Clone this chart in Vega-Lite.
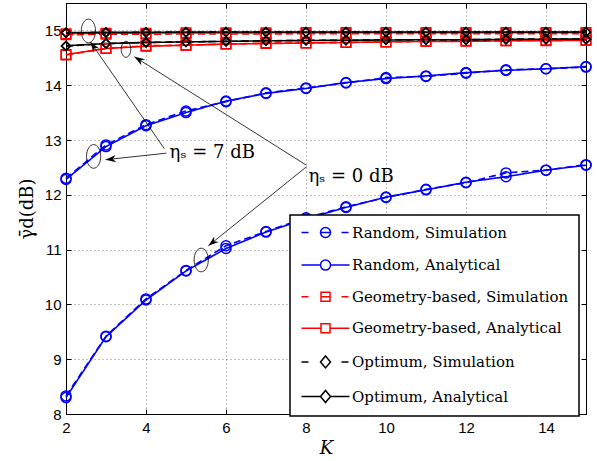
{
  "$schema": "https://vega.github.io/schema/vega-lite/v6.json",
  "width": 520,
  "height": 411,
  "autosize": "none",
  "padding": {"left": 66, "top": 3, "right": 11, "bottom": 47},
  "background": "white",
  "datasets": {
    "curves": [
      {"scheme":"Random","type":"Analytical","eta":7,"K":2,"v":12.28},{"scheme":"Random","type":"Analytical","eta":7,"K":3,"v":12.88},{"scheme":"Random","type":"Analytical","eta":7,"K":4,"v":13.26},{"scheme":"Random","type":"Analytical","eta":7,"K":5,"v":13.50},{"scheme":"Random","type":"Analytical","eta":7,"K":6,"v":13.71},{"scheme":"Random","type":"Analytical","eta":7,"K":7,"v":13.85},{"scheme":"Random","type":"Analytical","eta":7,"K":8,"v":13.94},{"scheme":"Random","type":"Analytical","eta":7,"K":9,"v":14.05},{"scheme":"Random","type":"Analytical","eta":7,"K":10,"v":14.12},{"scheme":"Random","type":"Analytical","eta":7,"K":11,"v":14.17},{"scheme":"Random","type":"Analytical","eta":7,"K":12,"v":14.23},{"scheme":"Random","type":"Analytical","eta":7,"K":13,"v":14.27},{"scheme":"Random","type":"Analytical","eta":7,"K":14,"v":14.30},{"scheme":"Random","type":"Analytical","eta":7,"K":15,"v":14.34},
      {"scheme":"Random","type":"Simulation","eta":7,"K":2,"v":12.30},{"scheme":"Random","type":"Simulation","eta":7,"K":3,"v":12.91},{"scheme":"Random","type":"Simulation","eta":7,"K":4,"v":13.28},{"scheme":"Random","type":"Simulation","eta":7,"K":5,"v":13.53},{"scheme":"Random","type":"Simulation","eta":7,"K":6,"v":13.70},{"scheme":"Random","type":"Simulation","eta":7,"K":7,"v":13.86},{"scheme":"Random","type":"Simulation","eta":7,"K":8,"v":13.95},{"scheme":"Random","type":"Simulation","eta":7,"K":9,"v":14.04},{"scheme":"Random","type":"Simulation","eta":7,"K":10,"v":14.14},{"scheme":"Random","type":"Simulation","eta":7,"K":11,"v":14.16},{"scheme":"Random","type":"Simulation","eta":7,"K":12,"v":14.22},{"scheme":"Random","type":"Simulation","eta":7,"K":13,"v":14.28},{"scheme":"Random","type":"Simulation","eta":7,"K":14,"v":14.30},{"scheme":"Random","type":"Simulation","eta":7,"K":15,"v":14.33},
      {"scheme":"Random","type":"Analytical","eta":0,"K":2,"v":8.30},{"scheme":"Random","type":"Analytical","eta":0,"K":3,"v":9.41},{"scheme":"Random","type":"Analytical","eta":0,"K":4,"v":10.08},{"scheme":"Random","type":"Analytical","eta":0,"K":5,"v":10.61},{"scheme":"Random","type":"Analytical","eta":0,"K":6,"v":11.02},{"scheme":"Random","type":"Analytical","eta":0,"K":7,"v":11.32},{"scheme":"Random","type":"Analytical","eta":0,"K":8,"v":11.56},{"scheme":"Random","type":"Analytical","eta":0,"K":9,"v":11.77},{"scheme":"Random","type":"Analytical","eta":0,"K":10,"v":11.96},{"scheme":"Random","type":"Analytical","eta":0,"K":11,"v":12.09},{"scheme":"Random","type":"Analytical","eta":0,"K":12,"v":12.23},{"scheme":"Random","type":"Analytical","eta":0,"K":13,"v":12.33},{"scheme":"Random","type":"Analytical","eta":0,"K":14,"v":12.45},{"scheme":"Random","type":"Analytical","eta":0,"K":15,"v":12.54},
      {"scheme":"Random","type":"Simulation","eta":0,"K":2,"v":8.33},{"scheme":"Random","type":"Simulation","eta":0,"K":3,"v":9.42},{"scheme":"Random","type":"Simulation","eta":0,"K":4,"v":10.10},{"scheme":"Random","type":"Simulation","eta":0,"K":5,"v":10.62},{"scheme":"Random","type":"Simulation","eta":0,"K":6,"v":11.07},{"scheme":"Random","type":"Simulation","eta":0,"K":7,"v":11.33},{"scheme":"Random","type":"Simulation","eta":0,"K":8,"v":11.58},{"scheme":"Random","type":"Simulation","eta":0,"K":9,"v":11.78},{"scheme":"Random","type":"Simulation","eta":0,"K":10,"v":11.95},{"scheme":"Random","type":"Simulation","eta":0,"K":11,"v":12.10},{"scheme":"Random","type":"Simulation","eta":0,"K":12,"v":12.22},{"scheme":"Random","type":"Simulation","eta":0,"K":13,"v":12.40},{"scheme":"Random","type":"Simulation","eta":0,"K":14,"v":12.45},{"scheme":"Random","type":"Simulation","eta":0,"K":15,"v":12.55},
      {"scheme":"Geometry-based","type":"Analytical","eta":7,"K":2,"v":14.94},{"scheme":"Geometry-based","type":"Analytical","eta":7,"K":3,"v":14.95},{"scheme":"Geometry-based","type":"Analytical","eta":7,"K":4,"v":14.95},{"scheme":"Geometry-based","type":"Analytical","eta":7,"K":5,"v":14.955},{"scheme":"Geometry-based","type":"Analytical","eta":7,"K":6,"v":14.955},{"scheme":"Geometry-based","type":"Analytical","eta":7,"K":7,"v":14.955},{"scheme":"Geometry-based","type":"Analytical","eta":7,"K":8,"v":14.96},{"scheme":"Geometry-based","type":"Analytical","eta":7,"K":9,"v":14.96},{"scheme":"Geometry-based","type":"Analytical","eta":7,"K":10,"v":14.96},{"scheme":"Geometry-based","type":"Analytical","eta":7,"K":11,"v":14.96},{"scheme":"Geometry-based","type":"Analytical","eta":7,"K":12,"v":14.96},{"scheme":"Geometry-based","type":"Analytical","eta":7,"K":13,"v":14.96},{"scheme":"Geometry-based","type":"Analytical","eta":7,"K":14,"v":14.96},{"scheme":"Geometry-based","type":"Analytical","eta":7,"K":15,"v":14.96},
      {"scheme":"Geometry-based","type":"Simulation","eta":7,"K":2,"v":14.92},{"scheme":"Geometry-based","type":"Simulation","eta":7,"K":3,"v":14.93},{"scheme":"Geometry-based","type":"Simulation","eta":7,"K":4,"v":14.93},{"scheme":"Geometry-based","type":"Simulation","eta":7,"K":5,"v":14.935},{"scheme":"Geometry-based","type":"Simulation","eta":7,"K":6,"v":14.935},{"scheme":"Geometry-based","type":"Simulation","eta":7,"K":7,"v":14.935},{"scheme":"Geometry-based","type":"Simulation","eta":7,"K":8,"v":14.94},{"scheme":"Geometry-based","type":"Simulation","eta":7,"K":9,"v":14.94},{"scheme":"Geometry-based","type":"Simulation","eta":7,"K":10,"v":14.94},{"scheme":"Geometry-based","type":"Simulation","eta":7,"K":11,"v":14.94},{"scheme":"Geometry-based","type":"Simulation","eta":7,"K":12,"v":14.94},{"scheme":"Geometry-based","type":"Simulation","eta":7,"K":13,"v":14.94},{"scheme":"Geometry-based","type":"Simulation","eta":7,"K":14,"v":14.94},{"scheme":"Geometry-based","type":"Simulation","eta":7,"K":15,"v":14.94},
      {"scheme":"Geometry-based","type":"Analytical","eta":0,"K":2,"v":14.56},{"scheme":"Geometry-based","type":"Analytical","eta":0,"K":3,"v":14.67},{"scheme":"Geometry-based","type":"Analytical","eta":0,"K":4,"v":14.71},{"scheme":"Geometry-based","type":"Analytical","eta":0,"K":5,"v":14.73},{"scheme":"Geometry-based","type":"Analytical","eta":0,"K":6,"v":14.75},{"scheme":"Geometry-based","type":"Analytical","eta":0,"K":7,"v":14.76},{"scheme":"Geometry-based","type":"Analytical","eta":0,"K":8,"v":14.77},{"scheme":"Geometry-based","type":"Analytical","eta":0,"K":9,"v":14.78},{"scheme":"Geometry-based","type":"Analytical","eta":0,"K":10,"v":14.79},{"scheme":"Geometry-based","type":"Analytical","eta":0,"K":11,"v":14.80},{"scheme":"Geometry-based","type":"Analytical","eta":0,"K":12,"v":14.80},{"scheme":"Geometry-based","type":"Analytical","eta":0,"K":13,"v":14.81},{"scheme":"Geometry-based","type":"Analytical","eta":0,"K":14,"v":14.81},{"scheme":"Geometry-based","type":"Analytical","eta":0,"K":15,"v":14.82},
      {"scheme":"Geometry-based","type":"Simulation","eta":0,"K":2,"v":14.55},{"scheme":"Geometry-based","type":"Simulation","eta":0,"K":3,"v":14.67},{"scheme":"Geometry-based","type":"Simulation","eta":0,"K":4,"v":14.72},{"scheme":"Geometry-based","type":"Simulation","eta":0,"K":5,"v":14.73},{"scheme":"Geometry-based","type":"Simulation","eta":0,"K":6,"v":14.75},{"scheme":"Geometry-based","type":"Simulation","eta":0,"K":7,"v":14.77},{"scheme":"Geometry-based","type":"Simulation","eta":0,"K":8,"v":14.77},{"scheme":"Geometry-based","type":"Simulation","eta":0,"K":9,"v":14.78},{"scheme":"Geometry-based","type":"Simulation","eta":0,"K":10,"v":14.79},{"scheme":"Geometry-based","type":"Simulation","eta":0,"K":11,"v":14.80},{"scheme":"Geometry-based","type":"Simulation","eta":0,"K":12,"v":14.81},{"scheme":"Geometry-based","type":"Simulation","eta":0,"K":13,"v":14.81},{"scheme":"Geometry-based","type":"Simulation","eta":0,"K":14,"v":14.82},{"scheme":"Geometry-based","type":"Simulation","eta":0,"K":15,"v":14.82},
      {"scheme":"Optimum","type":"Analytical","eta":7,"K":2,"v":14.96},{"scheme":"Optimum","type":"Analytical","eta":7,"K":3,"v":14.965},{"scheme":"Optimum","type":"Analytical","eta":7,"K":4,"v":14.965},{"scheme":"Optimum","type":"Analytical","eta":7,"K":5,"v":14.97},{"scheme":"Optimum","type":"Analytical","eta":7,"K":6,"v":14.97},{"scheme":"Optimum","type":"Analytical","eta":7,"K":7,"v":14.97},{"scheme":"Optimum","type":"Analytical","eta":7,"K":8,"v":14.97},{"scheme":"Optimum","type":"Analytical","eta":7,"K":9,"v":14.97},{"scheme":"Optimum","type":"Analytical","eta":7,"K":10,"v":14.97},{"scheme":"Optimum","type":"Analytical","eta":7,"K":11,"v":14.97},{"scheme":"Optimum","type":"Analytical","eta":7,"K":12,"v":14.97},{"scheme":"Optimum","type":"Analytical","eta":7,"K":13,"v":14.97},{"scheme":"Optimum","type":"Analytical","eta":7,"K":14,"v":14.97},{"scheme":"Optimum","type":"Analytical","eta":7,"K":15,"v":14.97},
      {"scheme":"Optimum","type":"Simulation","eta":7,"K":2,"v":14.955},{"scheme":"Optimum","type":"Simulation","eta":7,"K":3,"v":14.96},{"scheme":"Optimum","type":"Simulation","eta":7,"K":4,"v":14.965},{"scheme":"Optimum","type":"Simulation","eta":7,"K":5,"v":14.965},{"scheme":"Optimum","type":"Simulation","eta":7,"K":6,"v":14.97},{"scheme":"Optimum","type":"Simulation","eta":7,"K":7,"v":14.97},{"scheme":"Optimum","type":"Simulation","eta":7,"K":8,"v":14.97},{"scheme":"Optimum","type":"Simulation","eta":7,"K":9,"v":14.97},{"scheme":"Optimum","type":"Simulation","eta":7,"K":10,"v":14.97},{"scheme":"Optimum","type":"Simulation","eta":7,"K":11,"v":14.97},{"scheme":"Optimum","type":"Simulation","eta":7,"K":12,"v":14.97},{"scheme":"Optimum","type":"Simulation","eta":7,"K":13,"v":14.97},{"scheme":"Optimum","type":"Simulation","eta":7,"K":14,"v":14.97},{"scheme":"Optimum","type":"Simulation","eta":7,"K":15,"v":14.97},
      {"scheme":"Optimum","type":"Analytical","eta":0,"K":2,"v":14.72},{"scheme":"Optimum","type":"Analytical","eta":0,"K":3,"v":14.76},{"scheme":"Optimum","type":"Analytical","eta":0,"K":4,"v":14.78},{"scheme":"Optimum","type":"Analytical","eta":0,"K":5,"v":14.79},{"scheme":"Optimum","type":"Analytical","eta":0,"K":6,"v":14.80},{"scheme":"Optimum","type":"Analytical","eta":0,"K":7,"v":14.81},{"scheme":"Optimum","type":"Analytical","eta":0,"K":8,"v":14.815},{"scheme":"Optimum","type":"Analytical","eta":0,"K":9,"v":14.82},{"scheme":"Optimum","type":"Analytical","eta":0,"K":10,"v":14.825},{"scheme":"Optimum","type":"Analytical","eta":0,"K":11,"v":14.83},{"scheme":"Optimum","type":"Analytical","eta":0,"K":12,"v":14.83},{"scheme":"Optimum","type":"Analytical","eta":0,"K":13,"v":14.835},{"scheme":"Optimum","type":"Analytical","eta":0,"K":14,"v":14.84},{"scheme":"Optimum","type":"Analytical","eta":0,"K":15,"v":14.84},
      {"scheme":"Optimum","type":"Simulation","eta":0,"K":2,"v":14.71},{"scheme":"Optimum","type":"Simulation","eta":0,"K":3,"v":14.76},{"scheme":"Optimum","type":"Simulation","eta":0,"K":4,"v":14.78},{"scheme":"Optimum","type":"Simulation","eta":0,"K":5,"v":14.79},{"scheme":"Optimum","type":"Simulation","eta":0,"K":6,"v":14.80},{"scheme":"Optimum","type":"Simulation","eta":0,"K":7,"v":14.81},{"scheme":"Optimum","type":"Simulation","eta":0,"K":8,"v":14.82},{"scheme":"Optimum","type":"Simulation","eta":0,"K":9,"v":14.82},{"scheme":"Optimum","type":"Simulation","eta":0,"K":10,"v":14.83},{"scheme":"Optimum","type":"Simulation","eta":0,"K":11,"v":14.83},{"scheme":"Optimum","type":"Simulation","eta":0,"K":12,"v":14.83},{"scheme":"Optimum","type":"Simulation","eta":0,"K":13,"v":14.84},{"scheme":"Optimum","type":"Simulation","eta":0,"K":14,"v":14.84},{"scheme":"Optimum","type":"Simulation","eta":0,"K":15,"v":14.84}
    ],
    "notes": [
      {"kind":"arrow","name":"A","K":4.46,"v":12.84,"K2":2.61,"v2":14.79},
      {"kind":"arrow","name":"B","K":4.51,"v":12.76,"K2":2.99,"v2":12.64},
      {"kind":"arrow","name":"C","K":8.01,"v":12.54,"K2":3.71,"v2":14.52},
      {"kind":"arrow","name":"D","K":8.01,"v":12.51,"K2":5.56,"v2":11.07},
      {"kind":"ellipse","name":"E1","K":2.56,"v":14.99},
      {"kind":"ellipse","name":"E2","K":3.5,"v":14.655},
      {"kind":"ellipse","name":"E3","K":2.69,"v":12.70},
      {"kind":"ellipse","name":"E4","K":5.38,"v":10.81},
      {"kind":"label","name":"T7","K":4.59,"v":12.67,"text":"ηₛ = 7 dB"},
      {"kind":"label","name":"T0","K":8.06,"v":12.23,"text":"ηₛ = 0 dB"}
    ]
  },
  "layer": [
    {
      "data": {"name": "curves"},
      "mark": {"type": "line", "strokeWidth": 1.6},
      "encoding": {
        "x": {"field": "K", "type": "quantitative", "scale": {"domain": [2, 15], "nice": false, "zero": false},
              "axis": {"values": [2,4,6,8,10,12,14], "grid": true, "title": "K", "titleFont": "DejaVu Serif", "titleFontStyle": "italic", "titleFontSize": 18, "titleFontWeight": "normal", "titlePadding": 4, "labelPadding": 11, "labelFlush": false, "labelOverlap": false}},
        "y": {"field": "v", "type": "quantitative", "scale": {"domain": [8, 15.5], "nice": false, "zero": false},
              "axis": {"values": [8,9,10,11,12,13,14,15], "grid": true, "title": "γ̄d(dB)", "titleFont": "DejaVu Serif", "titleFontSize": 18, "titleFontWeight": "normal", "titlePadding": 8, "labelPadding": 10, "labelFlush": false, "labelOverlap": false}},
        "color": {"field": "scheme", "type": "nominal", "scale": {"domain": ["Random", "Geometry-based", "Optimum"], "range": ["#0000ff", "#ff0000", "#000000"]}, "legend": null},
        "strokeDash": {"field": "type", "type": "nominal", "scale": {"domain": ["Simulation", "Analytical"], "range": [[7, 4], [1, 0]]}, "legend": null},
        "detail": {"field": "eta"}
      }
    },
    {
      "data": {"name": "curves"},
      "mark": {"type": "point", "filled": false, "strokeWidth": 1.5, "opacity": 1},
      "encoding": {
        "x": {"field": "K", "type": "quantitative", "axis": null},
        "y": {"field": "v", "type": "quantitative", "axis": null},
        "color": {"field": "scheme", "type": "nominal", "scale": {"domain": ["Random", "Geometry-based", "Optimum"], "range": ["#0000ff", "#ff0000", "#000000"]}, "legend": null},
        "shape": {"field": "scheme", "type": "nominal", "scale": {"domain": ["Random", "Geometry-based", "Optimum"], "range": ["circle", "square", "diamond"]}, "legend": null},
        "size": {"field": "scheme", "type": "nominal", "scale": {"domain": ["Random", "Geometry-based", "Optimum"], "range": [100, 81, 121]}, "legend": null}
      }
    },
    {
      "data": {"name": "curves"},
      "transform": [{"filter": "datum.K > 100"}],
      "mark": {"type": "point", "filled": false, "strokeWidth": 1.5, "opacity": 1},
      "encoding": {
        "color": {"field": "series", "type": "nominal",
          "scale": {"domain": ["Random, Simulation", "Random, Analytical", "Geometry-based, Simulation", "Geometry-based, Analytical", "Optimum, Simulation", "Optimum, Analytical"],
                    "range": ["#0000ff", "#0000ff", "#ff0000", "#ff0000", "#000000", "#000000"]},
          "legend": {"title": null, "orient": "none", "legendX": 224, "legendY": 212, "labelFont": "DejaVu Serif", "labelFontSize": 15, "labelOffset": 19, "rowPadding": 15.6}},
        "shape": {"field": "series", "type": "nominal",
          "scale": {"domain": ["Random, Simulation", "Random, Analytical", "Geometry-based, Simulation", "Geometry-based, Analytical", "Optimum, Simulation", "Optimum, Analytical"],
                    "range": [
                      "M -4.8 0 L -3.4 0 M 3.2 0 L 4.6 0 M -1 0 L 1 0 M 1 0 A 1 1 0 1 1 -1 0 A 1 1 0 1 1 1 0",
                      "M -4.8 0 L -1 0 M 1 0 L 4.8 0 M 1 0 A 1 1 0 1 1 -1 0 A 1 1 0 1 1 1 0",
                      "M -4.8 0 L -3.4 0 M 3.2 0 L 4.6 0 M -0.9 0 L 0.9 0 M -0.9 -0.9 L 0.9 -0.9 L 0.9 0.9 L -0.9 0.9 Z",
                      "M -4.8 0 L -0.9 0 M 0.9 0 L 4.8 0 M -0.9 -0.9 L 0.9 -0.9 L 0.9 0.9 L -0.9 0.9 Z",
                      "M -4.8 0 L -3.4 0 M 3.2 0 L 4.6 0 M -1 0 L 0 -1.2 L 1 0 L 0 1.2 Z",
                      "M -4.8 0 L -1 0 M 1 0 L 4.8 0 M -1 0 L 0 -1.2 L 1 0 L 0 1.2 Z"
                    ]},
          "legend": {"title": null, "orient": "none", "legendX": 224, "legendY": 212, "labelFont": "DejaVu Serif", "labelFontSize": 15, "labelOffset": 19, "rowPadding": 15.6}}
      }
    },
    {
      "data": {"name": "notes"},
      "transform": [{"filter": "datum.kind == 'arrow'"}],
      "mark": {"type": "rule", "color": "black", "strokeWidth": 0.8},
      "encoding": {
        "x": {"field": "K", "type": "quantitative", "axis": null},
        "y": {"field": "v", "type": "quantitative", "axis": null},
        "x2": {"field": "K2"},
        "y2": {"field": "v2"}
      }
    },
    {
      "data": {"name": "notes"},
      "transform": [
        {"filter": "datum.kind == 'arrow'"},
        {"calculate": "atan2(-(datum.v2 - datum.v) * 54.8, (datum.K2 - datum.K) * 40) * 180 / PI", "as": "ang"}
      ],
      "mark": {"type": "point", "filled": true, "color": "black", "opacity": 1, "size": 64, "shape": "M 0 0 L -2.6 -0.9 L -1.8 0 L -2.6 0.9 Z"},
      "encoding": {
        "x": {"field": "K2", "type": "quantitative", "axis": null},
        "y": {"field": "v2", "type": "quantitative", "axis": null},
        "angle": {"field": "ang", "type": "quantitative", "scale": null}
      }
    },
    {
      "data": {"name": "notes"},
      "transform": [{"filter": "datum.kind == 'ellipse' && datum.name != 'E2'"}],
      "mark": {"type": "point", "filled": false, "color": "black", "opacity": 1, "strokeWidth": 0.8, "size": 560, "shape": "M -0.6 0 A 0.6 1 0 1 0 0.6 0 A 0.6 1 0 1 0 -0.6 0 Z"},
      "encoding": {
        "x": {"field": "K", "type": "quantitative", "axis": null},
        "y": {"field": "v", "type": "quantitative", "axis": null}
      }
    },
    {
      "data": {"name": "notes"},
      "transform": [{"filter": "datum.name == 'E2'"}],
      "mark": {"type": "point", "filled": false, "color": "black", "opacity": 1, "strokeWidth": 0.8, "size": 256, "shape": "M -0.6 0 A 0.6 1 0 1 0 0.6 0 A 0.6 1 0 1 0 -0.6 0 Z"},
      "encoding": {
        "x": {"field": "K", "type": "quantitative", "axis": null},
        "y": {"field": "v", "type": "quantitative", "axis": null}
      }
    },
    {
      "data": {"name": "notes"},
      "transform": [{"filter": "datum.kind == 'label'"}],
      "mark": {"type": "text", "align": "left", "baseline": "alphabetic", "font": "DejaVu Serif", "fontSize": 18, "color": "black"},
      "encoding": {
        "x": {"field": "K", "type": "quantitative", "axis": {"orient": "top", "values": [2,4,6,8,10,12,14], "labels": false, "grid": false, "domain": false, "title": null}},
        "y": {"field": "v", "type": "quantitative", "axis": {"orient": "right", "values": [8,9,10,11,12,13,14,15], "labels": false, "grid": false, "domain": false, "title": null}},
        "text": {"field": "text"}
      }
    }
  ],
  "resolve": {
    "scale": {"color": "independent", "shape": "independent", "size": "independent"},
    "axis": {"x": "independent", "y": "independent"},
    "legend": {"color": "independent", "shape": "independent"}
  },
  "config": {
    "view": {"stroke": "black", "strokeWidth": 1},
    "axis": {
      "domainColor": "black", "domainWidth": 1, "tickColor": "black", "tickSize": -5, "tickWidth": 1,
      "labelColor": "black", "labelFont": "Liberation Sans", "labelFontSize": 15, "titleColor": "black",
      "gridColor": "#000000", "gridOpacity": 0.5, "gridDash": [1, 3], "gridWidth": 1
    },
    "legend": {
      "labelFont": "DejaVu Serif", "labelFontSize": 15, "labelColor": "black", "labelLimit": 400,
      "symbolSize": 100, "symbolStrokeWidth": 1.5, "symbolOffset": 18, "labelOffset": 19,
      "rowPadding": 15.6, "padding": 10, "strokeColor": "black", "strokeWidth": 1.5,
      "fillColor": "white", "cornerRadius": 0
    }
  }
}
